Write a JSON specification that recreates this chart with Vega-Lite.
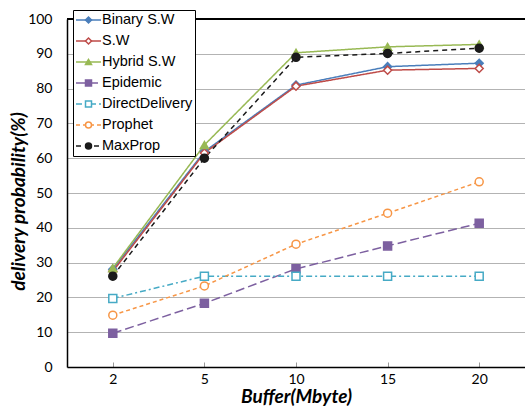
{
  "$schema": "https://vega.github.io/schema/vega-lite/v6.json",
  "width": 458,
  "height": 348,
  "autosize": {"type": "none"},
  "padding": {"left": 67, "top": 19, "right": 0, "bottom": 40},
  "background": "white",
  "config": {
    "view": {"stroke": null},
    "axis": {"labelFont": "Lato", "labelFontSize": 14, "labelColor": "#000000", "titleFont": "Lato", "titleFontSize": 19, "titleFontWeight": "bold", "titleFontStyle": "italic", "titleColor": "#000000"}
  },
  "data": {
    "values": [
      {"buffer": 2, "series": "Binary S.W", "value": 28.1},
      {"buffer": 5, "series": "Binary S.W", "value": 61.9},
      {"buffer": 10, "series": "Binary S.W", "value": 81.0},
      {"buffer": 15, "series": "Binary S.W", "value": 86.3},
      {"buffer": 20, "series": "Binary S.W", "value": 87.3},
      {"buffer": 2, "series": "S.W", "value": 27.5},
      {"buffer": 5, "series": "S.W", "value": 61.5},
      {"buffer": 10, "series": "S.W", "value": 80.7},
      {"buffer": 15, "series": "S.W", "value": 85.3},
      {"buffer": 20, "series": "S.W", "value": 85.8},
      {"buffer": 2, "series": "Hybrid S.W", "value": 28.4},
      {"buffer": 5, "series": "Hybrid S.W", "value": 63.8},
      {"buffer": 10, "series": "Hybrid S.W", "value": 90.3},
      {"buffer": 15, "series": "Hybrid S.W", "value": 92.0},
      {"buffer": 20, "series": "Hybrid S.W", "value": 92.7},
      {"buffer": 2, "series": "Epidemic", "value": 9.7},
      {"buffer": 5, "series": "Epidemic", "value": 18.3},
      {"buffer": 10, "series": "Epidemic", "value": 28.2},
      {"buffer": 15, "series": "Epidemic", "value": 34.8},
      {"buffer": 20, "series": "Epidemic", "value": 41.3},
      {"buffer": 2, "series": "DirectDelivery", "value": 19.7},
      {"buffer": 5, "series": "DirectDelivery", "value": 26.1},
      {"buffer": 10, "series": "DirectDelivery", "value": 26.1},
      {"buffer": 15, "series": "DirectDelivery", "value": 26.1},
      {"buffer": 20, "series": "DirectDelivery", "value": 26.1},
      {"buffer": 2, "series": "Prophet", "value": 14.9},
      {"buffer": 5, "series": "Prophet", "value": 23.3},
      {"buffer": 10, "series": "Prophet", "value": 35.3},
      {"buffer": 15, "series": "Prophet", "value": 44.2},
      {"buffer": 20, "series": "Prophet", "value": 53.2},
      {"buffer": 2, "series": "MaxProp", "value": 26.1},
      {"buffer": 5, "series": "MaxProp", "value": 60.0},
      {"buffer": 10, "series": "MaxProp", "value": 89.0},
      {"buffer": 15, "series": "MaxProp", "value": 90.1},
      {"buffer": 20, "series": "MaxProp", "value": 91.6}
    ]
  },
  "encoding": {
    "x": {
      "field": "buffer", "type": "ordinal", "sort": [2, 5, 10, 15, 20],
      "scale": {"type": "point", "padding": 0.5},
      "title": "Buffer(Mbyte)",
      "axis": {"labelAngle": 0, "domainColor": "#000000", "domainWidth": 1.5, "ticks": true, "tickSize": -5, "tickColor": "#999999", "labelPadding": 10, "titlePadding": 1}
    },
    "y": {
      "field": "value", "type": "quantitative",
      "scale": {"domain": [0, 100], "nice": false},
      "title": "delivery probability(%)",
      "axis": {"values": [0, 10, 20, 30, 40, 50, 60, 70, 80, 90, 100], "grid": true, "gridColor": "#b3b3b3", "gridWidth": 1.2, "ticks": false, "domainColor": "#000000", "domainWidth": 1.5, "labelPadding": 15, "titleX": -39, "titleY": 182}
    }
  },
  "layer": [
    {
      "mark": {"type": "rule", "color": "#000000", "strokeWidth": 1.5},
      "encoding": {"x": null, "y": {"datum": 100, "type": "quantitative"}}
    },
    {
      "mark": {"type": "line", "strokeWidth": 1.5},
      "encoding": {
        "color": {
          "field": "series", "type": "nominal",
          "scale": {
            "domain": ["Binary S.W", "S.W", "Hybrid S.W", "Epidemic", "DirectDelivery", "Prophet", "MaxProp"],
            "range": ["#4a7ebb", "#be4b48", "#98b954", "#7d60a0", "#46aac5", "#f79646", "#1a1a1a"]
          },
          "legend": {
            "orient": "none", "legendX": 6, "legendY": -9, "title": null,
            "symbolType": "stroke", "symbolSize": 625, "symbolStrokeWidth": 1.5,
            "labelFont": "Liberation Sans", "labelFontSize": 14.5, "labelColor": "#000000", "labelOffset": 0,
            "clipHeight": 16, "rowPadding": 5, "padding": 2,
            "fillColor": "#ffffff", "strokeColor": "#000000", "zindex": 1
          }
        },
        "strokeDash": {
          "field": "series", "type": "nominal",
          "scale": {
            "domain": ["Binary S.W", "S.W", "Hybrid S.W", "Epidemic", "DirectDelivery", "Prophet", "MaxProp"],
            "range": [[1, 0], [1, 0], [1, 0], [9, 4], [6, 3, 2, 3], [4, 3], [5, 4]]
          }
        }
      }
    },
    {
      "mark": {"type": "point", "filled": true, "size": 64, "strokeWidth": 1.5, "opacity": 1},
      "encoding": {
        "fill": {
          "field": "series", "type": "nominal", "sort": null,
          "scale": {"range": ["#4a7ebb", "#ffffff", "#98b954", "#7d60a0", "#ffffff", "#ffffff", "#1a1a1a"]},
          "legend": {
            "orient": "none", "legendX": 6, "legendY": -9, "title": null,
            "symbolSize": 36, "symbolStrokeWidth": 1.5, "symbolOffset": 6.25,
            "labelFont": "Liberation Sans", "labelFontSize": 14.5, "labelExpr": "''", "labelOffset": 0,
            "clipHeight": 16, "rowPadding": 5, "padding": 2, "zindex": 2
          }
        },
        "stroke": {
          "field": "series", "type": "nominal", "sort": null,
          "scale": {"range": ["#4a7ebb", "#be4b48", "#98b954", "#7d60a0", "#46aac5", "#f79646", "#1a1a1a"]}
        },
        "shape": {
          "field": "series", "type": "nominal", "sort": null,
          "scale": {"range": ["diamond", "diamond", "triangle-up", "square", "square", "circle", "circle"]}
        }
      }
    }
  ]
}
